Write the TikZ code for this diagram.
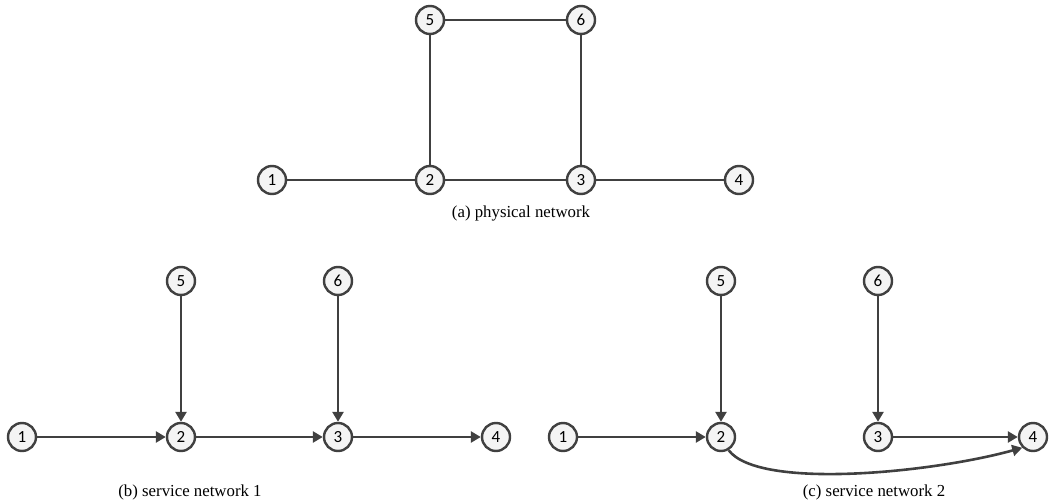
\documentclass[tikz,border=0pt]{standalone}
\usepackage{fontspec}
\setmainfont{Liberation Serif}
\newfontfamily\nodefont{Carlito}
\usetikzlibrary{arrows.meta}
\definecolor{edgegray}{HTML}{404040}
\definecolor{fillgray}{HTML}{F4F4F4}
\tikzset{
  vtx/.style={circle, draw=edgegray, line width=2.4pt, fill=fillgray, minimum size=28pt, inner sep=0pt, font=\nodefont\fontsize{17}{17}\selectfont},
  link/.style={draw=edgegray, line width=2.6pt},
  arc/.style={link, -{Triangle[length=10pt,width=11pt]}},
  captext/.style={font=\fontsize{16.8}{18}\selectfont, inner sep=0pt}
}
\begin{document}
\begin{tikzpicture}[x=1pt,y=-1pt]
\useasboundingbox (0,0) rectangle (1049,503);
% (a)
\node[vtx] (a5) at (430,20) {5};
\node[vtx] (a6) at (581,20) {6};
\node[vtx] (a1) at (272,180) {1};
\node[vtx] (a2) at (430,180) {2};
\node[vtx] (a3) at (581,180) {3};
\node[vtx] (a4) at (739,180) {4};
\draw[link] (a5) -- (a6);
\draw[link] (a5) -- (a2);
\draw[link] (a6) -- (a3);
\draw[link] (a1) -- (a2);
\draw[link] (a2) -- (a3);
\draw[link] (a3) -- (a4);
\node[captext] (capa) at (521,213) {(a) physical network};
% (b)
\node[vtx] (b1) at (22,437) {1};
\node[vtx] (b2) at (181,437) {2};
\node[vtx] (b3) at (338,437) {3};
\node[vtx] (b4) at (496,437) {4};
\node[vtx] (b5) at (181,281) {5};
\node[vtx] (b6) at (338,281) {6};
\draw[arc] (b1) -- (b2);
\draw[arc] (b2) -- (b3);
\draw[arc] (b3) -- (b4);
\draw[arc] (b5) -- (b2);
\draw[arc] (b6) -- (b3);
\node[captext] (capb) at (190,492) {(b) service network 1};
% (c)
\node[vtx] (c1) at (563,437) {1};
\node[vtx] (c2) at (721,437) {2};
\node[vtx] (c3) at (878,437) {3};
\node[vtx] (c4) at (1033,437) {4};
\node[vtx] (c5) at (721,281) {5};
\node[vtx] (c6) at (878,281) {6};
\draw[arc] (c1) -- (c2);
\draw[arc] (c3) -- (c4);
\draw[arc] (c5) -- (c2);
\draw[arc] (c6) -- (c3);
\draw[arc] (c2.-60) .. controls +(30,40) and +(-90,25) .. (c4.-135);
\node[captext] (capc) at (874,492) {(c) service network 2};
\end{tikzpicture}
\end{document}
